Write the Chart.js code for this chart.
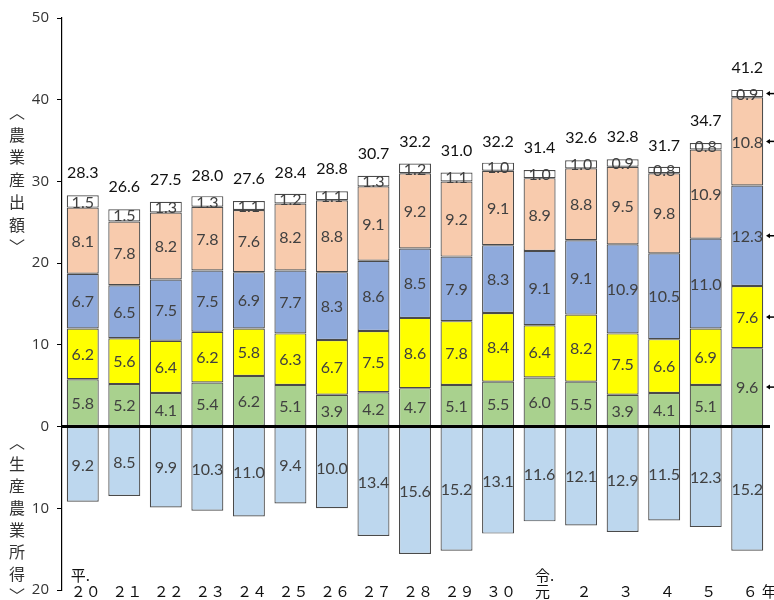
<!DOCTYPE html>
<html><head><meta charset="utf-8">
<script src="https://cdn.jsdelivr.net/npm/chart.js@4.4.1/dist/chart.umd.min.js"></script>
<style>html,body{margin:0;padding:0;background:#fff}#wrap{width:774px;height:600px;position:relative}</style>
</head><body><div id="wrap"><canvas id="c"></canvas></div>
<script>
const labelTop = ['平.','','','','','','','','','','','令.','','','','',''];
const labelBottom = ['２０','２１','２２','２３','２４','２５','２６','２７','２８','２９','３０','元','２','３','４','５','６'];
const lastSuffix = '年';
const green  = [5.8,5.2,4.1,5.4,6.2,5.1,3.9,4.2,4.7,5.1,5.5,6.0,5.5,3.9,4.1,5.1,9.6];
const yellow = [6.2,5.6,6.4,6.2,5.8,6.3,6.7,7.5,8.6,7.8,8.4,6.4,8.2,7.5,6.6,6.9,7.6];
const blue   = [6.7,6.5,7.5,7.5,6.9,7.7,8.3,8.6,8.5,7.9,8.3,9.1,9.1,10.9,10.5,11.0,12.3];
const peach  = [8.1,7.8,8.2,7.8,7.6,8.2,8.8,9.1,9.2,9.2,9.1,8.9,8.8,9.5,9.8,10.9,10.8];
const white  = [1.5,1.5,1.3,1.3,1.1,1.2,1.1,1.3,1.2,1.1,1.0,1.0,1.0,0.9,0.8,0.8,0.9];
const totals = [28.3,26.6,27.5,28.0,27.6,28.4,28.8,30.7,32.2,31.0,32.2,31.4,32.6,32.8,31.7,34.7,41.2];
const income = [9.2,8.5,9.9,10.3,11.0,9.4,10.0,13.4,15.6,15.2,13.1,11.6,12.1,12.9,11.5,12.3,15.2];
const yTicks = [50,40,30,20,10,0,-10,-20];
const titleUpper = ['︿','農','業','産','出','額','﹀'];
const titleLower = ['︿','生','産','農','業','所','得','﹀'];

const NUMFONT = '16px Lato, "Open Sans", sans-serif';
const border = '#4a4a4a';
function ds(label, data, color){
  return {label, data, backgroundColor:color, borderColor:border, borderWidth:1.2, stack:'s', borderSkipped:false};
}
const datasets = [
  ds('green', green, '#a9d18e'),
  ds('yellow', yellow, '#ffff00'),
  ds('blue', blue, '#8faadc'),
  ds('peach', peach, '#f8cbad'),
  ds('white', white, '#ffffff'),
  ds('income', income.map(v=>-v), '#bdd7ee')
];

const drawPlugin = {
  id:'drawPlugin',
  afterDatasetsDraw(chart){
    const ctx = chart.ctx;
    const ys = chart.scales.y, xs = chart.scales.x, area = chart.chartArea;
    ctx.save();
    const y0 = ys.getPixelForValue(0);
    ctx.strokeStyle = '#000'; ctx.lineWidth = 3;
    ctx.beginPath(); ctx.moveTo(area.left, y0); ctx.lineTo(770, y0); ctx.stroke();
    ctx.textAlign='center'; ctx.textBaseline='middle';
    ctx.font = NUMFONT; ctx.fillStyle = '#404040';
    chart.data.datasets.forEach((d,di)=>{
      const meta = chart.getDatasetMeta(di);
      meta.data.forEach((el,i)=>{
        const p = el.getProps(['x','y','base'], true);
        const v = Math.abs(d.data[i]);
        ctx.fillText(v.toFixed(1), p.x, (p.y+p.base)/2 + 1);
      });
    });
    ctx.fillStyle = '#111';
    ctx.font = '16px Lato, "Open Sans", sans-serif';
    const topMeta = chart.getDatasetMeta(4);
    topMeta.data.forEach((el,i)=>{
      const p = el.getProps(['x','y'], true);
      ctx.fillText(totals[i].toFixed(1), p.x, ys.getPixelForValue(totals[i]) - 22);
    });
    ctx.strokeStyle='#000'; ctx.fillStyle='#000'; ctx.lineWidth=1.5;
    const last = labelBottom.length-1;
    for (let di=0; di<5; di++){
      const el = chart.getDatasetMeta(di).data[last];
      const p = el.getProps(['y','base'], true);
      const yy = (p.y+p.base)/2;
      ctx.beginPath(); ctx.moveTo(768, yy); ctx.lineTo(774, yy); ctx.stroke();
      ctx.beginPath(); ctx.moveTo(766, yy); ctx.lineTo(770, yy-2.5); ctx.lineTo(770, yy+2.5); ctx.closePath(); ctx.fill();
    }
    ctx.fillStyle = '#111';
    ctx.font = '15px "Noto Sans CJK JP", sans-serif';
    labelBottom.forEach((lab,i)=>{
      const x = xs.getPixelForValue(i) + 3;
      const w = ctx.measureText(lab).width;
      const left = x - w/2;
      ctx.textAlign='left';
      ctx.fillText(lab, left, 591);
      if (i===last) ctx.fillText(lastSuffix, left + w + 4, 591);
      if (labelTop[i]) ctx.fillText(labelTop[i], left, 575);
    });
    ctx.textAlign='center';
    ctx.font = '16px "Noto Sans CJK JP", sans-serif';
    ctx.fillStyle='#333';
    titleUpper.forEach((ch,k)=>{ ctx.fillText(ch, 17, 112 + k*22.5); });
    titleLower.forEach((ch,k)=>{ ctx.fillText(ch, 17, 442 + k*22); });
    ctx.restore();
  }
};

new Chart(document.getElementById('c'), {
  type:'bar',
  data:{ labels: labelBottom, datasets },
  options:{
    responsive:true, maintainAspectRatio:false, animation:false,
    layout:{ padding:{ top:18, bottom:10, right:6, left:0 } },
    plugins:{ legend:{display:false}, tooltip:{enabled:false} },
    datasets:{ bar:{ categoryPercentage:1, barPercentage:0.77 } },
    scales:{
      x:{ display:false, stacked:true },
      y:{
        stacked:true, min:-20, max:50,
        afterFit(s){ s.width = 62; s.paddingTop = 0; s.paddingBottom = 0; },
        afterBuildTicks(s){ s.ticks = yTicks.map(v=>({value:v})); },
        ticks:{ callback:v=>String(Math.abs(v)), color:'#333', font:{family:'"Open Sans", sans-serif', size:15}, padding:8 },
        grid:{ drawOnChartArea:false, drawTicks:true, tickLength:5, tickColor:'#000', tickWidth:1 },
        border:{ display:true, color:'#000', width:1.2 }
      }
    }
  },
  plugins:[drawPlugin]
});
</script></body></html>
